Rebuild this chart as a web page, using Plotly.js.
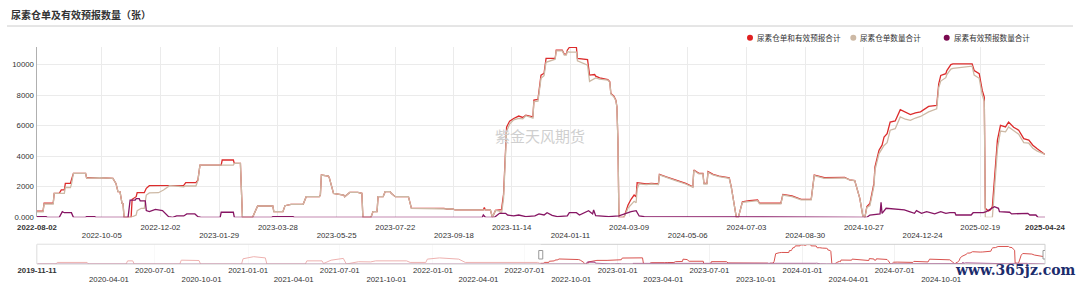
<!DOCTYPE html>
<html><head><meta charset="utf-8">
<script src="https://cdn.plot.ly/plotly-3.0.1.min.js"></script>
<style>html,body{margin:0;padding:0;background:#fff;}#chart{width:1080px;height:284px;}</style>
</head><body><div id="chart"></div>
<script>
// ---------- DATA ----------
const seriesNames = ["尿素仓单和有效预报合计", "尿素仓单数量合计", "尿素有效预报数量合计"];

// 尿素仓单和有效预报合计 (total), incl. history shown in the zoom slider
const totalSeries = [
["2019-11-11",0],["2019-12-18",0],["2019-12-21",900],["2020-02-18",900],["2020-02-21",0],["2020-05-05",0],["2020-05-08",1800],["2020-05-18",1800],["2020-05-21",0],["2020-08-19",0],["2020-08-22",2200],["2020-09-26",2000],["2020-09-29",0],["2020-12-19",0],["2020-12-22",3000],["2021-01-12",4200],["2021-02-04",3500],["2021-02-07",0],["2021-04-24",0],["2021-04-27",1800],["2021-05-27",1800],["2021-05-30",300],["2021-06-14",2200],["2021-07-08",3200],["2021-07-14",0],["2021-08-07",1300],["2021-08-31",1200],["2021-09-10",1800],["2021-11-10",1800],["2021-11-17",900],["2021-12-18",900],["2021-12-21",2800],["2022-01-14",3500],["2022-02-21",2800],["2022-03-06",900],["2022-04-02",900],["2022-04-09",1300],["2022-06-03",1300],["2022-06-09",900],["2022-07-27",900],["2022-07-31",400],
["2022-08-02",400],["2022-08-08",400],["2022-08-09",920],["2022-08-18",920],["2022-08-19",1570],["2022-08-24",1570],["2022-08-26",1790],["2022-08-29",1790],["2022-08-30",2220],["2022-09-04",2220],["2022-09-05",2440],["2022-09-07",2880],["2022-09-19",2880],["2022-09-20",2590],["2022-10-03",2590],["2022-10-16",2550],["2022-10-19",2220],["2022-10-21",1680],["2022-10-23",1680],["2022-10-24",1300],["2022-10-25",920],["2022-10-26",900],["2022-10-27",0],["2022-11-03",0],["2022-11-04",1180],["2022-11-08",1350],["2022-11-09",1610],["2022-11-16",1610],["2022-11-18",1900],["2022-11-21",2070],["2022-12-11",2070],["2022-12-25",2090],["2022-12-27",2270],["2023-01-06",2270],["2023-01-08",2440],["2023-01-10",3420],["2023-01-31",3420],["2023-02-01",3750],["2023-02-12",3750],["2023-02-13",3530],["2023-02-19",3530],["2023-02-21",0],["2023-03-03",0],["2023-03-08",740],["2023-03-23",740],["2023-03-24",370],["2023-04-02",370],["2023-04-04",760],["2023-04-10",850],["2023-04-22",850],["2023-04-25",1350],["2023-05-08",1350],["2023-05-09",1460],["2023-05-10",2770],["2023-05-17",2700],["2023-05-18",2550],["2023-05-22",1570],["2023-06-01",1460],["2023-06-02",1350],["2023-06-07",1630],["2023-06-15",1630],["2023-06-19",1570],["2023-06-20",0],["2023-06-28",0],["2023-06-30",370],["2023-07-04",370],["2023-07-05",1350],["2023-07-10",1350],["2023-07-12",1680],["2023-07-17",1680],["2023-07-18",1570],["2023-07-22",1350],["2023-08-04",1350],["2023-08-07",590],["2023-09-08",590],["2023-09-11",545],["2023-09-17",545],["2023-09-19",480],["2023-10-17",480],["2023-10-18",650],["2023-10-19",480],["2023-10-24",480],["2023-10-26",0],["2023-10-29",450],["2023-11-04",500],["2023-11-06",1500],["2023-11-09",5900],["2023-11-12",6300],["2023-11-16",6470],["2023-11-21",6630],["2023-11-25",6540],["2023-11-28",6690],["2023-12-05",6580],["2023-12-06",7670],["2023-12-10",7720],["2023-12-11",8330],["2023-12-13",9310],["2023-12-16",9420],["2023-12-18",10400],["2023-12-27",10400],["2023-12-28",10940],["2024-01-03",10940],["2024-01-05",10680],["2024-01-07",10680],["2024-01-08",10940],["2024-01-10",11120],["2024-01-17",11120],["2024-01-18",10400],["2024-01-28",10330],["2024-01-30",9310],["2024-02-04",9350],["2024-02-05",9240],["2024-02-09",9130],["2024-02-17",9020],["2024-02-19",8870],["2024-02-20",8110],["2024-02-23",7930],["2024-02-25",7670],["2024-02-26",7240],["2024-02-27",5060],["2024-02-28",0],["2024-03-04",0],["2024-03-08",806],["2024-03-11",1180],["2024-03-14",1460],["2024-03-16",1350],["2024-03-17",2270],["2024-03-26",2180],["2024-03-31",2220],["2024-04-07",2180],["2024-04-08",2810],["2024-04-14",2660],["2024-04-24",2440],["2024-05-04",2220],["2024-05-11",2000],["2024-05-12",3100],["2024-05-17",2880],["2024-05-21",2880],["2024-05-22",2220],["2024-05-25",2220],["2024-05-26",2990],["2024-05-31",2810],["2024-06-06",2700],["2024-06-16",2590],["2024-06-18",2000],["2024-06-23",0],["2024-06-25",0],["2024-06-29",1020],["2024-07-06",1090],["2024-07-14",1130],["2024-07-16",920],["2024-08-06",920],["2024-08-08",1500],["2024-08-17",1400],["2024-08-26",1180],["2024-09-05",1180],["2024-09-08",2770],["2024-09-18",2590],["2024-10-08",2620],["2024-10-13",2450],["2024-10-18",2400],["2024-10-23",1240],["2024-10-26",100],["2024-10-28",0],["2024-10-30",700],["2024-11-02",910],["2024-11-06",2220],["2024-11-07",3300],["2024-11-11",4390],["2024-11-14",4720],["2024-11-16",5260],["2024-11-19",5480],["2024-11-22",6240],["2024-11-27",6310],["2024-12-02",7050],["2024-12-07",6900],["2024-12-12",6720],["2024-12-17",6830],["2024-12-22",6900],["2024-12-30",7260],["2025-01-07",7330],["2025-01-09",8740],["2025-01-11",9290],["2025-01-16",9400],["2025-01-17",9610],["2025-01-21",10000],["2025-01-23",10050],["2025-02-11",10050],["2025-02-13",9610],["2025-02-18",9400],["2025-02-21",8310],["2025-02-23",7870],["2025-02-24",600],["2025-02-27",420],["2025-03-01",480],["2025-03-03",700],["2025-03-05",2650],["2025-03-08",5050],["2025-03-11",6020],["2025-03-16",5920],["2025-03-19",6240],["2025-03-24",5900],["2025-03-29",5700],["2025-04-03",5150],["2025-04-08",5050],["2025-04-12",4720],["2025-04-16",4500],["2025-04-24",4110]
];

// 尿素仓单数量合计 (warrants)
const warrantSeries = [
["2022-08-02",350],["2022-08-08",350],["2022-08-09",870],["2022-08-18",870],["2022-08-19",1570],["2022-08-29",1570],["2022-08-30",1950],["2022-09-04",1950],["2022-09-05",2150],["2022-09-07",2880],["2022-09-19",2880],["2022-09-20",2560],["2022-10-03",2590],["2022-10-16",2550],["2022-10-19",2220],["2022-10-21",1680],["2022-10-23",1680],["2022-10-24",1300],["2022-10-25",920],["2022-10-26",900],["2022-10-27",0],["2022-11-03",0],["2022-11-04",40],["2022-11-08",150],["2022-11-09",436],["2022-11-13",590],["2022-11-16",590],["2022-11-18",1460],["2022-11-21",1600],["2022-11-30",1610],["2022-12-05",1790],["2022-12-10",2050],["2022-12-11",2070],["2022-12-25",2000],["2022-12-27",2050],["2023-01-06",2050],["2023-01-08",2400],["2023-01-10",3420],["2023-02-12",3420],["2023-02-13",3530],["2023-02-19",3530],["2023-02-21",0],["2023-03-03",0],["2023-03-08",740],["2023-03-23",740],["2023-03-24",370],["2023-04-02",370],["2023-04-04",760],["2023-04-10",850],["2023-04-22",850],["2023-04-25",1350],["2023-05-08",1350],["2023-05-09",1460],["2023-05-10",2770],["2023-05-17",2700],["2023-05-18",2550],["2023-05-22",1570],["2023-06-01",1460],["2023-06-02",1350],["2023-06-07",1630],["2023-06-15",1630],["2023-06-19",1570],["2023-06-20",0],["2023-06-28",0],["2023-06-30",370],["2023-07-04",370],["2023-07-05",1350],["2023-07-10",1350],["2023-07-12",1680],["2023-07-17",1680],["2023-07-18",1570],["2023-07-22",1350],["2023-08-04",1350],["2023-08-07",590],["2023-09-08",590],["2023-09-11",545],["2023-09-17",545],["2023-09-19",480],["2023-10-17",480],["2023-10-18",500],["2023-10-19",480],["2023-10-24",480],["2023-10-26",0],["2023-10-29",450],["2023-11-02",400],["2023-11-04",240],["2023-11-06",1240],["2023-11-09",5640],["2023-11-12",6100],["2023-11-16",6380],["2023-11-21",6480],["2023-11-25",6450],["2023-11-28",6650],["2023-12-05",6500],["2023-12-06",7580],["2023-12-10",7600],["2023-12-11",8100],["2023-12-13",9100],["2023-12-16",9270],["2023-12-18",10150],["2023-12-27",10350],["2023-12-28",10900],["2024-01-03",10900],["2024-01-05",10620],["2024-01-07",10620],["2024-01-08",10850],["2024-01-10",10820],["2024-01-17",10820],["2024-01-18",10250],["2024-01-28",9960],["2024-01-30",8900],["2024-02-04",9100],["2024-02-05",9130],["2024-02-09",9050],["2024-02-17",8980],["2024-02-19",8830],["2024-02-20",8070],["2024-02-23",7890],["2024-02-25",7630],["2024-02-26",7200],["2024-02-27",5000],["2024-02-28",0],["2024-03-04",0],["2024-03-08",600],["2024-03-11",810],["2024-03-14",1050],["2024-03-16",950],["2024-03-17",1850],["2024-03-19",2190],["2024-03-26",2140],["2024-03-31",2180],["2024-04-07",2140],["2024-04-08",2770],["2024-04-14",2620],["2024-04-24",2400],["2024-05-04",2180],["2024-05-11",1960],["2024-05-12",3060],["2024-05-17",2840],["2024-05-21",2840],["2024-05-22",2180],["2024-05-25",2180],["2024-05-26",2950],["2024-05-31",2770],["2024-06-06",2660],["2024-06-16",2550],["2024-06-18",1960],["2024-06-23",0],["2024-06-25",0],["2024-06-29",980],["2024-07-06",1050],["2024-07-14",1090],["2024-07-16",880],["2024-08-06",880],["2024-08-08",1460],["2024-08-17",1360],["2024-08-26",1140],["2024-09-05",1140],["2024-09-08",2730],["2024-09-18",2550],["2024-10-08",2580],["2024-10-13",2450],["2024-10-18",2400],["2024-10-23",1240],["2024-10-26",100],["2024-10-28",0],["2024-10-30",650],["2024-11-02",760],["2024-11-06",2050],["2024-11-07",3100],["2024-11-11",4170],["2024-11-14",4460],["2024-11-16",4700],["2024-11-19",4890],["2024-11-22",5700],["2024-11-27",5800],["2024-12-02",6570],["2024-12-07",6420],["2024-12-12",6350],["2024-12-17",6500],["2024-12-22",6600],["2024-12-30",6900],["2025-01-07",7100],["2025-01-09",8500],["2025-01-11",8920],["2025-01-16",9140],["2025-01-17",9350],["2025-01-21",9700],["2025-01-23",9750],["2025-02-11",9900],["2025-02-13",9310],["2025-02-18",9100],["2025-02-21",8010],["2025-02-23",7570],["2025-02-24",0],["2025-03-03",0],["2025-03-05",1950],["2025-03-08",4460],["2025-03-11",5650],["2025-03-16",5600],["2025-03-19",5920],["2025-03-24",5680],["2025-03-29",5440],["2025-04-03",4890],["2025-04-08",4850],["2025-04-12",4520],["2025-04-16",4350],["2025-04-24",4110]
];

// 尿素有效预报数量合计 (forecasts)
const forecastSeries = [
["2019-11-11",0],["2022-07-31",0],
["2022-08-02",50],["2022-08-11",50],["2022-08-12",0],["2022-08-24",0],["2022-08-27",370],["2022-08-29",300],["2022-09-05",300],["2022-09-07",0],["2022-09-19",0],["2022-09-20",50],["2022-09-28",50],["2022-09-29",0],["2022-10-31",0],["2022-11-02",1130],["2022-11-07",1130],["2022-11-08",1220],["2022-11-11",1220],["2022-11-12",1070],["2022-11-17",1070],["2022-11-18",436],["2022-11-21",370],["2022-11-27",520],["2022-12-04",436],["2022-12-07",260],["2022-12-10",40],["2022-12-14",0],["2022-12-18",90],["2022-12-25",90],["2022-12-28",220],["2023-01-05",220],["2023-01-08",40],["2023-01-11",0],["2023-01-30",0],["2023-01-31",330],["2023-02-12",330],["2023-02-13",0],["2023-02-28",0],["2023-03-02",40],["2023-03-06",0],["2023-03-22",0],["2023-03-23",50],["2023-04-12",50],["2023-04-13",0],["2023-04-23",0],["2023-04-24",40],["2023-05-12",40],["2023-05-13",0],["2023-10-16",0],["2023-10-17",150],["2023-10-19",0],["2023-10-28",0],["2023-11-02",260],["2023-11-08",260],["2023-11-10",150],["2023-11-16",90],["2023-11-21",150],["2023-11-28",40],["2023-12-07",90],["2023-12-11",220],["2023-12-16",150],["2023-12-19",300],["2023-12-24",130],["2023-12-29",40],["2024-01-08",90],["2024-01-10",300],["2024-01-17",300],["2024-01-20",150],["2024-01-28",370],["2024-01-29",436],["2024-02-02",220],["2024-02-03",480],["2024-02-05",110],["2024-02-18",40],["2024-02-28",90],["2024-03-06",260],["2024-03-11",370],["2024-03-16",436],["2024-03-19",87],["2024-03-24",40],["2024-10-11",40],["2024-10-13",0],["2024-10-30",0],["2024-11-02",150],["2024-11-10",220],["2024-11-12",220],["2024-11-13",980],["2024-11-14",260],["2024-11-18",590],["2024-11-26",520],["2024-12-06",480],["2024-12-11",370],["2024-12-16",260],["2024-12-18",436],["2024-12-23",260],["2024-12-28",370],["2025-01-05",220],["2025-01-11",370],["2025-01-16",260],["2025-01-20",300],["2025-01-25",300],["2025-01-26",150],["2025-02-10",150],["2025-02-12",300],["2025-02-22",300],["2025-02-25",370],["2025-02-28",480],["2025-03-05",700],["2025-03-09",590],["2025-03-10",370],["2025-03-20",330],["2025-03-22",220],["2025-04-07",260],["2025-04-09",150],["2025-04-15",150],["2025-04-17",0],["2025-04-24",0]
];

// tick labels (main axis, two staggered rows)
const mainRow1Dates = ["2022-08-02","2022-12-02","2023-03-28","2023-07-22","2023-11-14","2024-03-09","2024-07-03","2024-10-27","2025-02-19","2025-04-24"];
const mainRow2Dates = ["2022-10-05","2023-01-29","2023-05-25","2023-09-18","2024-01-11","2024-05-06","2024-08-30","2024-12-24"];
// slider labels
const sliderRow1Dates = ["2019-11-11","2020-07-01","2021-01-01","2021-07-01","2022-01-01","2022-07-01","2023-01-01","2023-07-01","2024-01-01","2024-07-01"];
const sliderRow2Dates = ["2020-04-01","2020-10-01","2021-04-01","2021-10-01","2022-04-01","2022-10-01","2023-04-01","2023-10-01","2024-04-01","2024-10-01"];
const yTickVals = [0,2000,4000,6000,8000,10000];
const yTickText = ["0.000","2000","4000","6000","8000","10000"];
const viewStart = "2022-08-02", viewEnd = "2025-04-24", fullStart = "2019-11-11";

// ---------- LAYOUT HELPERS ----------
const W=1080,H=284,L=37,R=35,T=47,B=20;
const PW=W-L-R, PH=H-T-B;
const px = x => (x-L)/PW;
const py = y => (H-B-y)/PH;
const colors = ["#dc2b2b","#cdb9a5","#861563"];
const legendColors = ["#e02020","#cdb9a5","#7a0a50"];
const tickFont = {family:"Liberation Sans, Arial, sans-serif", size:7.8, color:"#333"};
const cjk = "Noto Sans CJK SC, sans-serif";

const xs = s => s.map(p=>p[0]);
const ys = s => s.map(p=>p[1]);
const boldIfEdge = (d, edges) => edges.includes(d) ? "<b>"+d+"</b>" : d;

const traces = [
  {x:xs(totalSeries), y:ys(totalSeries), xaxis:"x", yaxis:"y", mode:"lines", line:{color:colors[0], width:1.3}, hoverinfo:"skip", showlegend:false},
  {x:xs(warrantSeries), y:ys(warrantSeries), xaxis:"x", yaxis:"y", mode:"lines", line:{color:colors[1], width:1.3}, hoverinfo:"skip", showlegend:false},
  {x:xs(forecastSeries), y:ys(forecastSeries), xaxis:"x3", yaxis:"y", mode:"lines", line:{color:colors[2], width:1.3}, hoverinfo:"skip", showlegend:false},
  {x:xs(totalSeries), y:ys(totalSeries), xaxis:"x2", yaxis:"y2", mode:"lines", line:{color:"#d9534f", width:1}, hoverinfo:"skip", showlegend:false},
  {x:xs(forecastSeries), y:ys(forecastSeries), xaxis:"x4", yaxis:"y2", mode:"lines", line:{color:"#9b2a78", width:1}, hoverinfo:"skip", showlegend:false}
];

const mainTickVals = mainRow1Dates.concat(mainRow2Dates);
const mainTickText = mainRow1Dates.map(d=>boldIfEdge(d,[viewStart,viewEnd])).concat(mainRow2Dates.map(()=>""));

const shapes = [
  {type:"line", xref:"paper", yref:"paper", x0:px(7), x1:px(1073), y0:py(26), y1:py(26), line:{color:"#cccccc", width:1}},
  {type:"rect", xref:"x2 domain", yref:"y2 domain", x0:0, x1:1, y0:0, y1:1, line:{color:"#cfcfcf", width:1}, fillcolor:"rgba(0,0,0,0)"},
  {type:"rect", xref:"x2", yref:"y2 domain", x0:fullStart, x1:viewStart, y0:0.02, y1:1, line:{width:0}, fillcolor:"rgba(255,255,255,0.55)", layer:"above"},
  {type:"rect", xref:"x2", xsizemode:"pixel", xanchor:viewStart, x0:-2, x1:2, yref:"paper", y0:py(259), y1:py(250.5), line:{color:"#999", width:1}, fillcolor:"#fff", layer:"above"},
  {type:"rect", xref:"x2", xsizemode:"pixel", xanchor:viewEnd, x0:-2, x1:2, yref:"paper", y0:py(259), y1:py(250.5), line:{color:"#999", width:1}, fillcolor:"#fff", layer:"above"}
];
const legendX = [750, 853.3, 946.7];
const annotations = [];
seriesNames.forEach((n,i)=>{
  shapes.push({type:"circle", xref:"paper", yref:"paper", x0:px(legendX[i]-3), x1:px(legendX[i]+3), y0:py(40.7), y1:py(34.7), fillcolor:legendColors[i], line:{width:0}});
  annotations.push({xref:"paper", yref:"paper", x:px(legendX[i]+5), y:py(37.7), xanchor:"left", yanchor:"middle", showarrow:false, text:n, font:{family:cjk, size:7.6, color:"#333"}});
});
annotations.push({xref:"paper", yref:"paper", x:px(540), y:py(135), xanchor:"center", yanchor:"middle", showarrow:false, text:"紫金天风期货", font:{family:cjk, size:15, color:"#cfcfcf"}});
annotations.push({xref:"paper", yref:"paper", x:px(1015), y:py(269.5), xanchor:"center", yanchor:"middle", showarrow:false, text:"<b>www.365jz.com</b>", font:{family:"DejaVu Serif, serif", size:14, color:"#1c2c6c"}});

const layout = {
  width:W, height:H, margin:{l:L, r:R, t:T, b:B, pad:0},
  paper_bgcolor:"#fff", plot_bgcolor:"#fff", showlegend:false, hovermode:false,
  title:{text:"<b>尿素仓单及有效预报数量（张）</b>", xref:"container", yref:"container", x:11/W, xanchor:"left", y:1-15.5/H, yanchor:"middle", font:{family:cjk, size:10, color:"#333"}},
  xaxis:{type:"date", domain:[0,1], anchor:"y", range:[viewStart,viewEnd], tickmode:"array", tickvals:mainTickVals, ticktext:mainTickText, ticks:"outside", ticklen:2, tickcolor:"rgba(0,0,0,0)", tickangle:0, showgrid:true, gridcolor:"#ebebeb", gridwidth:1, showline:false, zeroline:false, tickfont:tickFont, fixedrange:true},
  xaxis3:{type:"date", overlaying:"x", anchor:"y", side:"bottom", range:[viewStart,viewEnd], tickmode:"array", tickvals:mainRow2Dates, ticktext:mainRow2Dates, ticks:"outside", ticklen:10, tickcolor:"rgba(0,0,0,0)", tickangle:0, showgrid:false, showline:false, zeroline:false, tickfont:tickFont, fixedrange:true},
  yaxis:{domain:[py(217.3),1], anchor:"x", range:[0,11150], tickmode:"array", tickvals:yTickVals, ticktext:yTickText, ticks:"", showline:true, linecolor:"#b0b0b0", linewidth:1.5, showgrid:true, gridcolor:"#ebebeb", zeroline:false, tickfont:tickFont, fixedrange:true},
  xaxis2:{type:"date", domain:[0,1], anchor:"y2", range:[fullStart,viewEnd], tickmode:"array", tickvals:sliderRow1Dates, ticktext:sliderRow1Dates.map(d=>boldIfEdge(d,[fullStart])), ticks:"", tickangle:0, showgrid:true, gridcolor:"#f2f2f2", showline:false, zeroline:false, tickfont:tickFont, fixedrange:true},
  xaxis4:{type:"date", overlaying:"x2", anchor:"y2", side:"bottom", range:[fullStart,viewEnd], tickmode:"array", tickvals:sliderRow2Dates, ticktext:sliderRow2Dates, ticks:"outside", ticklen:7.5, tickcolor:"rgba(0,0,0,0)", tickangle:0, showgrid:false, showline:false, zeroline:false, tickfont:tickFont, fixedrange:true},
  yaxis2:{domain:[0,py(244.3)], anchor:"x2", range:[0,11300], showticklabels:false, showgrid:false, zeroline:false, showline:false, ticks:"", fixedrange:true},
  shapes:shapes, annotations:annotations
};
Plotly.newPlot("chart", traces, layout, {displayModeBar:false, staticPlot:true});
</script></body></html>
